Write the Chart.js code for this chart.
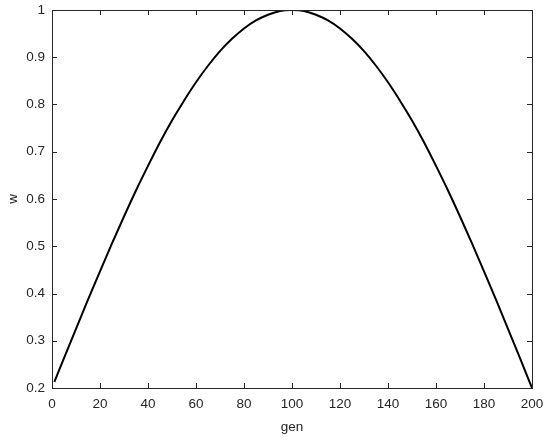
<!DOCTYPE html>
<html>
<head>
<meta charset="utf-8">
<script src="https://cdn.jsdelivr.net/npm/chart.js@4.4.1/dist/chart.umd.min.js"></script>
<style>
  html, body { margin: 0; padding: 0; background: #fff; }
  #wrap { width: 550px; height: 442px; }
</style>
</head>
<body>
<div id="wrap"><canvas id="c" width="550" height="442"></canvas></div>
<script>
// gen values where the curve was read
var gens = [1, 5, 10, 15, 20, 25, 30, 35, 40, 45, 50, 55, 60, 65, 70, 75, 80, 85, 90, 95,
  100, 105, 110, 115, 120, 125, 130, 135, 140, 145, 150, 155, 160, 165, 170, 175, 180, 185, 190, 195, 200];
// w
var wValues = [0.213, 0.263, 0.325, 0.387, 0.447, 0.506, 0.563, 0.618, 0.670, 0.720, 0.766,
  0.808, 0.847, 0.882, 0.913, 0.939, 0.961, 0.978, 0.990, 0.998,
  1.000, 0.998, 0.990, 0.978, 0.961, 0.939, 0.913, 0.882, 0.847, 0.808, 0.766,
  0.720, 0.670, 0.618, 0.563, 0.506, 0.447, 0.387, 0.325, 0.263, 0.200];
var xTicks = [0, 20, 40, 60, 80, 100, 120, 140, 160, 180, 200];
var yTicks = [0.2, 0.3, 0.4, 0.5, 0.6, 0.7, 0.8, 0.9, 1];

var axisColor = '#262626';
var font = { family: '"Liberation Sans", Arial, sans-serif', size: 13.5 };

// MATLAB style box with inward ticks on all four sides
var boxPlugin = {
  id: 'box',
  afterDraw: function (chart) {
    var ctx = chart.ctx, a = chart.chartArea;
    var xs = chart.scales.x, ys = chart.scales.y;
    var len = 5;
    ctx.save();
    ctx.strokeStyle = axisColor;
    ctx.lineWidth = 1;
    ctx.strokeRect(Math.round(a.left) + 0.5, Math.round(a.top) + 0.5,
      Math.round(a.right - a.left), Math.round(a.bottom - a.top));
    ctx.beginPath();
    xTicks.forEach(function (v) {
      var px = Math.round(xs.getPixelForValue(v)) + 0.5;
      ctx.moveTo(px, a.bottom); ctx.lineTo(px, a.bottom - len);
      ctx.moveTo(px, a.top); ctx.lineTo(px, a.top + len);
    });
    yTicks.forEach(function (v) {
      var py = Math.round(ys.getPixelForValue(v)) + 0.5;
      ctx.moveTo(a.left, py); ctx.lineTo(a.left + len, py);
      ctx.moveTo(a.right, py); ctx.lineTo(a.right - len, py);
    });
    ctx.stroke();
    ctx.restore();
  }
};

new Chart(document.getElementById('c').getContext('2d'), {
  type: 'line',
  data: {
    datasets: [{
      data: gens.map(function (g, i) { return { x: g, y: wValues[i] }; }),
      borderColor: '#000',
      borderWidth: 2,
      pointRadius: 0,
      fill: false,
      cubicInterpolationMode: 'monotone'
    }]
  },
  options: {
    responsive: false,
    animation: false,
    layout: { autoPadding: false, padding: { top: 10, right: 18, left: 0, bottom: 0 } },
    plugins: { legend: { display: false }, tooltip: { enabled: false } },
    scales: {
      x: {
        type: 'linear',
        min: 0,
        max: 200,
        afterFit: function (s) { s.height = 54; s.paddingLeft = 0; s.paddingRight = 0; },
        afterBuildTicks: function (s) { s.ticks = xTicks.map(function (v) { return { value: v }; }); },
        grid: { display: false, drawTicks: false },
        border: { display: false },
        ticks: { color: axisColor, font: font, padding: 8, maxRotation: 0,
          callback: function (v) { return String(v); } },
        title: { display: true, text: 'gen', color: axisColor, font: font, padding: { top: 4, bottom: 7 } }
      },
      y: {
        min: 0.2,
        max: 1,
        afterFit: function (s) { s.width = 52; s.paddingTop = 0; s.paddingBottom = 0; },
        afterBuildTicks: function (s) { s.ticks = yTicks.map(function (v) { return { value: v }; }); },
        grid: { display: false, drawTicks: false },
        border: { display: false },
        ticks: { color: axisColor, font: font, padding: 7,
          callback: function (v) { return String(Number(v.toFixed(1))); } },
        title: { display: true, text: 'w', color: axisColor, font: font, padding: { top: 5, bottom: 0 } }
      }
    }
  },
  plugins: [boxPlugin]
});
</script>
</body>
</html>
